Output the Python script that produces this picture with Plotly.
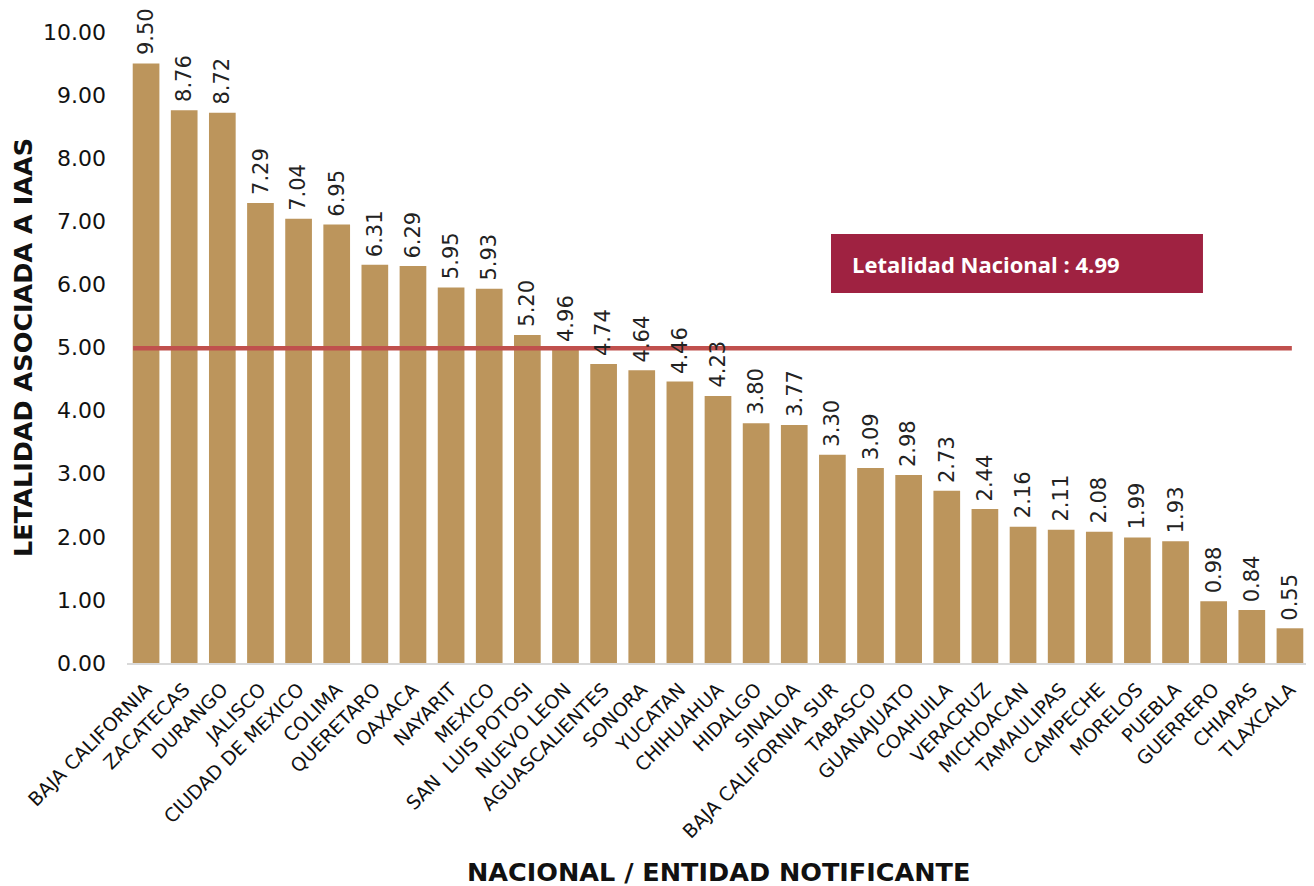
import plotly.graph_objects as go

# ================================================================
# Letalidad asociada a IAAS por entidad notificante
# ================================================================
entidades = [
    "BAJA CALIFORNIA", "ZACATECAS", "DURANGO", "JALISCO", "CIUDAD DE MEXICO",
    "COLIMA", "QUERETARO", "OAXACA", "NAYARIT", "MEXICO", "SAN  LUIS POTOSI",
    "NUEVO LEON", "AGUASCALIENTES", "SONORA", "YUCATAN", "CHIHUAHUA", "HIDALGO",
    "SINALOA", "BAJA CALIFORNIA SUR", "TABASCO", "GUANAJUATO", "COAHUILA",
    "VERACRUZ", "MICHOACAN", "TAMAULIPAS", "CAMPECHE", "MORELOS", "PUEBLA",
    "GUERRERO", "CHIAPAS", "TLAXCALA",
]
letalidad = [
    9.50, 8.76, 8.72, 7.29, 7.04, 6.95, 6.31, 6.29, 5.95, 5.93, 5.20,
    4.96, 4.74, 4.64, 4.46, 4.23, 3.80, 3.77, 3.30, 3.09, 2.98, 2.73,
    2.44, 2.16, 2.11, 2.08, 1.99, 1.93, 0.98, 0.84, 0.55,
]
letalidad_nacional = 4.99
y_ticks = [0, 1, 2, 3, 4, 5, 6, 7, 8, 9, 10]

FUENTE = "DejaVu Sans"
FUENTE_CAJA = "Open Sans"
DORADO = "#bc955c"
NEGRO = "#111111"

fig = go.Figure()

fig.add_trace(go.Bar(
    x=entidades, y=letalidad,
    marker=dict(color=DORADO, line=dict(width=0)),
    width=0.7,
    showlegend=False,
    hoverinfo="x+y",
))

# etiquetas de valor (giradas, sobre cada barra)
for ent, v in zip(entidades, letalidad):
    fig.add_annotation(
        x=ent, y=v, xref="x", yref="y",
        text=f"{v:.2f}", textangle=-90,
        showarrow=False, yanchor="bottom", yshift=6,
        font=dict(family=FUENTE, size=21, color="#222222"),
    )

# línea de letalidad nacional
fig.add_shape(
    type="line", xref="x", yref="y",
    x0=-0.34, x1=30.05,
    y0=letalidad_nacional, y1=letalidad_nacional,
    line=dict(color="#c0504d", width=4.5),
)

# recuadro de letalidad nacional
fig.add_shape(
    type="rect", xref="paper", yref="paper",
    x0=0.5956, x1=0.9103, y0=0.5864, y1=0.6799,
    fillcolor="#9f2241", line=dict(width=0), layer="above",
)
fig.add_annotation(
    xref="paper", yref="paper",
    x=0.6117, y=0.6331, xanchor="left", yanchor="middle",
    text=f"<b>Letalidad Nacional : {letalidad_nacional:.2f}</b>",
    showarrow=False,
    font=dict(family=FUENTE_CAJA, size=22, color="white"),
)

# títulos de ejes
fig.add_annotation(
    xref="paper", yref="paper", x=0.5, y=-0.331,
    xanchor="center", yanchor="middle",
    text="<b>NACIONAL / ENTIDAD NOTIFICANTE</b>", showarrow=False,
    font=dict(family=FUENTE, size=25.5, color=NEGRO),
)
fig.add_annotation(
    xref="paper", yref="paper", x=-0.0885, y=0.5, textangle=-90,
    xanchor="center", yanchor="middle",
    text="<b>LETALIDAD ASOCIADA A IAAS</b>", showarrow=False,
    font=dict(family=FUENTE, size=25.5, color=NEGRO),
)

fig.update_layout(
    width=1314, height=886,
    margin=dict(l=119, r=13, t=24, b=231),
    plot_bgcolor="white", paper_bgcolor="white",
    font=dict(family=FUENTE, color=NEGRO),
)

fig.update_xaxes(
    tickangle=-45,
    tickfont=dict(family=FUENTE, size=19, color=NEGRO),
    showline=True, linecolor="#d9d9d9", linewidth=2,
    ticks="", showgrid=False, automargin=False,
    ticklabelstandoff=6,
)

fig.update_yaxes(
    range=[0, 10], tickvals=y_ticks,
    tickformat=".2f",
    tickfont=dict(family=FUENTE, size=22, color=NEGRO),
    showgrid=False, zeroline=False, showline=False,
    automargin=False, ticklabelstandoff=20,
)

fig.write_html("out.html")
